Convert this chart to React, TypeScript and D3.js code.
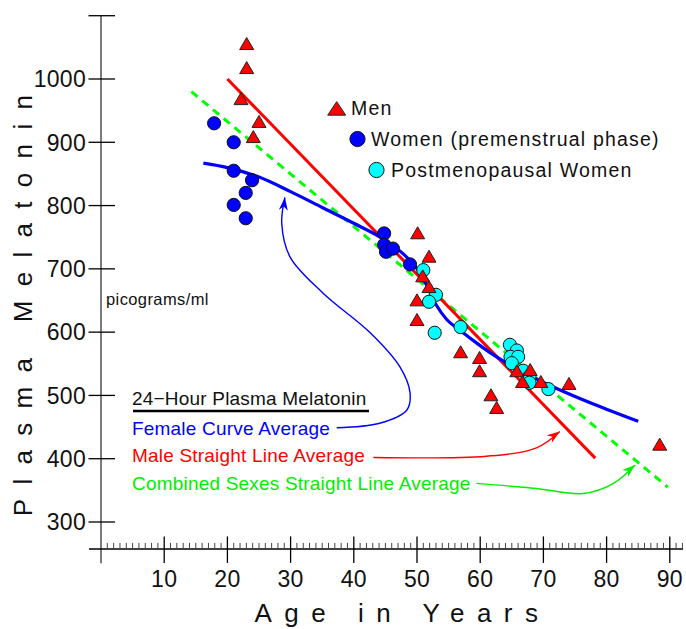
import React from 'react';
import * as d3 from 'd3';

// ---- data (age in years, plasma melatonin pg/ml) ----
const ageTicks = [10, 20, 30, 40, 50, 60, 70, 80, 90];
const valueTicks = [300, 400, 500, 600, 700, 800, 900, 1000];

const men: [number, number][] = [
  [23.05, 1056], [23.05, 1018], [22.15, 969], [25.0, 933], [24.1, 909],
  [50.1, 757], [51.9, 720], [50.9, 689], [51.9, 672], [50.0, 651], [50.0, 620],
  [56.9, 569], [59.9, 560], [59.9, 539], [61.7, 501], [62.6, 481],
  [65.8, 539], [67.9, 541], [66.7, 522], [69.6, 522], [74.05, 519], [88.4, 423],
];

const women: [number, number][] = [
  [17.9, 930], [21.0, 900], [21.0, 855], [23.9, 840], [22.9, 820], [21.0, 801], [22.9, 780],
  [44.8, 756], [44.8, 738], [45.1, 727], [46.2, 732], [48.9, 707],
];

const postmenopausal: [number, number][] = [
  [51.0, 698], [56.9, 608], [53.0, 659], [51.9, 648], [52.8, 599],
  [64.7, 580], [65.8, 571], [64.8, 561], [66.0, 561], [65.0, 551],
  [66.8, 539], [67.8, 530], [67.8, 520], [70.8, 510],
];

const femaleCurve: [number, number][] = [
  [16.2, 867], [20, 860], [25, 845], [30, 822], [35, 797], [40, 772], [45, 745],
  [48, 722], [50, 700], [51.5, 675], [53.1, 642], [54.7, 620], [56.8, 603],
  [59.4, 583], [61.5, 568], [64.2, 551], [67.9, 531], [72.1, 511], [78, 486], [85, 459],
];

const maleLine: [number, number][] = [[20.0, 1000], [78.2, 401]];
const combinedLine: [number, number][] = [[14.3, 980], [89.7, 355]];

// annotation arrows (data coordinates)
const femaleArrow: [number, number][] = [
  [37.3, 449], [44.1, 456], [48.4, 477], [48.9, 504], [47.3, 545], [42.6, 599],
  [35.1, 662], [29.9, 719], [28.6, 772], [29.1, 813],
];
const maleArrow: [number, number][] = [[43.1, 402], [61.0, 404], [68.9, 417], [72.6, 443]];
const combinedArrow: [number, number][] = [[59.4, 361], [68.9, 353], [76.3, 345], [81.1, 361], [84.5, 390]];

const W = 686;
const H = 629;
const FONT = "'Liberation Sans', Arial, Helvetica, sans-serif";

const x = d3.scaleLinear().domain([0, 90]).range([101, 669.8]);
const y = d3.scaleLinear().domain([300, 1000]).range([522, 79]);

const xAxisValue = 257.5; // where horizontal axis sits
const yAxisTop = 1100;
const yAxisBottom = 235;
const xAxisLeft = -1.9;
const xAxisRight = 92.1;

function tri(cx: number, cy: number, w: number, h: number) {
  return `M${cx},${cy - h / 2}L${cx + w / 2},${cy + h / 2}L${cx - w / 2},${cy + h / 2}Z`;
}

function arrowHead(pts: [number, number][], len = 13, half = 4.5) {
  const n = pts.length;
  const [x2, y2] = [x(pts[n - 1][0]), y(pts[n - 1][1])];
  const [x1, y1] = [x(pts[n - 2][0]), y(pts[n - 2][1])];
  const a = Math.atan2(y2 - y1, x2 - x1);
  const bx = x2 - len * Math.cos(a);
  const by = y2 - len * Math.sin(a);
  const px = -Math.sin(a) * half;
  const py = Math.cos(a) * half;
  const ix = x2 - len * 0.7 * Math.cos(a);
  const iy = y2 - len * 0.7 * Math.sin(a);
  return `M${x2},${y2}L${bx + px},${by + py}L${ix},${iy}L${bx - px},${by - py}Z`;
}

export default function App() {
  const line = d3.line<[number, number]>().x(d => x(d[0])).y(d => y(d[1]));
  const smooth = d3.line<[number, number]>().x(d => x(d[0])).y(d => y(d[1])).curve(d3.curveMonotoneX);
  const curvy = d3.line<[number, number]>().x(d => x(d[0])).y(d => y(d[1])).curve(d3.curveCatmullRom.alpha(0.5));

  const minor: number[] = d3.range(1, 93).filter(v => v % 10 !== 0);
  const axY = y(xAxisValue);

  return (
    <svg width={W} height={H} style={{ position: 'absolute', left: 0, top: 0, background: '#fff' }} fontFamily={FONT}>
      <rect width={W} height={H} fill="#fff" />
      {/* axes */}
      <line x1={x(0)} x2={x(0)} y1={y(yAxisTop)} y2={y(yAxisBottom)} stroke="#333" strokeWidth={1.3} />
      <line x1={x(xAxisLeft)} x2={x(xAxisRight)} y1={axY} y2={axY} stroke="#000" strokeWidth={1.5} />
      {[...valueTicks, 1100].map(v => (
        <line key={'yt' + v} x1={x(0) - 12.5} x2={x(0) + 14} y1={y(v)} y2={y(v)} stroke="#000" strokeWidth={1.3} />
      ))}
      {valueTicks.map(v => (
        <text key={'yl' + v} x={86} y={y(v) + 8.3} textAnchor="end" fontSize={23} fill="#111" letterSpacing={0.3}>{v}</text>
      ))}
      {minor.map(v => (
        <line key={'mn' + v} x1={x(v)} x2={x(v)} y1={axY - 6} y2={axY} stroke="#444" strokeWidth={1} />
      ))}
      {ageTicks.map(v => (
        <line key={'xt' + v} x1={x(v)} x2={x(v)} y1={axY - 12.5} y2={axY + 14} stroke="#000" strokeWidth={1.3} />
      ))}
      {ageTicks.map(v => (
        <text key={'xl' + v} x={x(v)} y={587} textAnchor="middle" fontSize={23} fill="#111" letterSpacing={0.3}>{v}</text>
      ))}

      {/* axis titles */}
      <text x={396.5 + 6} y={622} textAnchor="middle" fontSize={26} letterSpacing={12.5} fill="#111">Age in Years</text>
      <text transform={`translate(32,${305.5 - 7}) rotate(-90)`} textAnchor="middle" fontSize={26} letterSpacing={14.3} fill="#111">Plasma Melatonin</text>

      {/* fitted lines */}
      <path d={line(combinedLine) || ''} fill="none" stroke="#00ff00" strokeWidth={3} strokeDasharray="8,6" />
      <path d={line(maleLine) || ''} fill="none" stroke="#ff0000" strokeWidth={3} />
      <path d={smooth(femaleCurve) || ''} fill="none" stroke="#0000ff" strokeWidth={3.2} />

      {/* annotation arrows */}
      <path d={curvy(femaleArrow) || ''} fill="none" stroke="#0000ff" strokeWidth={1.4} />
      <path d={arrowHead(femaleArrow)} fill="#0000ff" />
      <path d={curvy(maleArrow) || ''} fill="none" stroke="#ff0000" strokeWidth={1.4} />
      <path d={arrowHead(maleArrow)} fill="#ff0000" />
      <path d={curvy(combinedArrow) || ''} fill="none" stroke="#00ee00" strokeWidth={1.4} />
      <path d={arrowHead(combinedArrow)} fill="#00ee00" />

      {/* markers */}
      {women.map((d, i) => (
        <circle key={'w' + i} cx={x(d[0])} cy={y(d[1])} r={6.6} fill="#0000ff" stroke="#111" strokeWidth={1} />
      ))}
      {postmenopausal.map((d, i) => (
        <circle key={'p' + i} cx={x(d[0])} cy={y(d[1])} r={6.6} fill="#00ffff" stroke="#111" strokeWidth={1} />
      ))}
      {men.map((d, i) => (
        <path key={'m' + i} d={tri(x(d[0]), y(d[1]), 14, 12)} fill="#ff0000" stroke="#222" strokeWidth={1} />
      ))}

      {/* legend */}
      <path d={tri(336.7, 108.4, 18, 13.5)} fill="#ff0000" stroke="#222" strokeWidth={1} />
      <text x={351} y={115} fontSize={19.5} letterSpacing={1.2} fill="#111">Men</text>
      <circle cx={357.5} cy={139} r={7.6} fill="#0000ff" stroke="#111" strokeWidth={1} />
      <text x={371} y={146} fontSize={19.5} letterSpacing={1.2} fill="#111">Women (premenstrual phase)</text>
      <circle cx={376.5} cy={170} r={7.6} fill="#00ffff" stroke="#111" strokeWidth={1} />
      <text x={391} y={177} fontSize={19.5} letterSpacing={1.2} fill="#111">Postmenopausal Women</text>

      {/* annotations */}
      <text x={106} y={305} fontSize={16.5} letterSpacing={0.4} fill="#111">picograms/ml</text>
      <text x={132} y={405} fontSize={19} letterSpacing={0.2} fill="#111">24−Hour Plasma Melatonin</text>
      <line x1={133} x2={369} y1={411} y2={411} stroke="#000" strokeWidth={2.5} />
      <text x={132} y={434.5} fontSize={19} letterSpacing={0.2} fill="#0000ff">Female Curve Average</text>
      <text x={132} y={462} fontSize={19} letterSpacing={0.2} fill="#ff0000">Male Straight Line Average</text>
      <text x={132} y={489.5} fontSize={19} letterSpacing={0.2} fill="#00ee00">Combined Sexes Straight Line Average</text>
    </svg>
  );
}
